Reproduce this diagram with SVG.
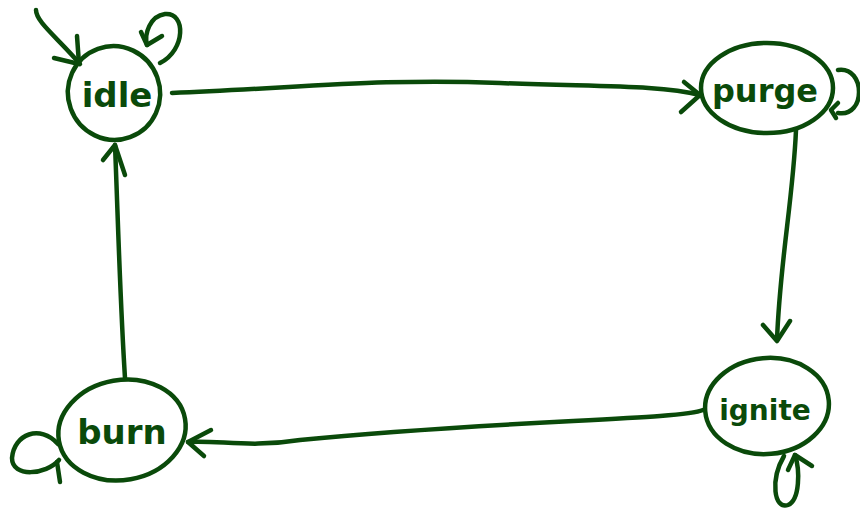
<svg xmlns="http://www.w3.org/2000/svg" width="860" height="512" viewBox="0 0 860 512">
<style>
.s{fill:none;stroke:#0a4a0a;stroke-width:4.5;stroke-linecap:round;stroke-linejoin:round}
.t{font-family:"DejaVu Sans",sans-serif;font-weight:bold;fill:#0a4a0a;text-anchor:middle}
</style>
<rect width="860" height="512" fill="#fff"/>
<g id="connectors" class="s">
<path d="M36,10 C36,22 58,38 80,64"/><path d="M77,36 L79,64 L54,58"/>
<path d="M160,63 C186,50 186,12 165,14 C150,16 144,34 147,45"/><path d="M141,32 L147,45 L162,36"/>
<path d="M172,93 C300,88 380,78 500,83 C600,87 660,85 700,95"/><path d="M684,82 L700,95 L681,112"/>
<path d="M838,70 C866,66 866,118 838,113"/><path d="M838,103 L831,110 L836,118"/>
<path d="M796,130 C793,200 780,260 777,340"/><path d="M763,325 L777,341 L790,321"/>
<path d="M784,456 C770,480 774,510 788,505 C800,500 800,470 795,455"/><path d="M788,470 L795,455 L812,466"/>
<path d="M703,410 C680,420 500,420 300,440 C250,448 220,440 188,442"/><path d="M211,430 L188,442 L204,456"/>
<path d="M58,444 C40,424 14,434 12,458 C12,478 46,475 59,460"/><path d="M57,462 L60,482"/>
<path d="M125,378 C120,300 118,220 115,145"/><path d="M103,160 L115,145 L125,175"/>
</g>
<g id="idle"><ellipse class="s" cx="114" cy="93" rx="46" ry="47" transform="rotate(-20 114 93)"/><text class="t" x="117" y="107" font-size="34">idle</text></g>
<g id="purge"><ellipse class="s" cx="767" cy="88" rx="66" ry="45"/><text class="t" x="765" y="102" font-size="32">purge</text></g>
<g id="ignite"><ellipse class="s" cx="767" cy="406" rx="62" ry="48" transform="rotate(-5 767 406)"/><text class="t" x="765" y="420" font-size="28">ignite</text></g>
<g id="burn"><ellipse class="s" cx="122" cy="430" rx="64" ry="50" transform="rotate(-10 122 430)"/><text class="t" x="122" y="444" font-size="34">burn</text></g>
</svg>
